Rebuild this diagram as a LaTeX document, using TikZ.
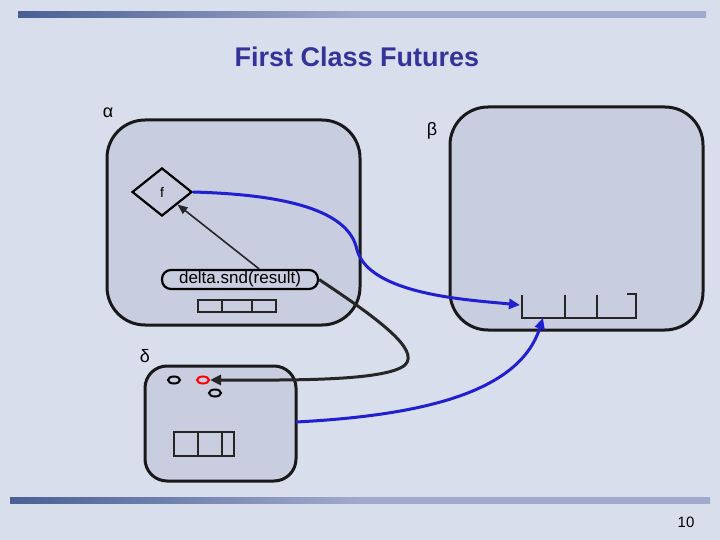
\documentclass[tikz,border=0pt]{standalone}
\usepackage{fontspec}
\setmainfont{Liberation Sans}
\usetikzlibrary{arrows.meta,shapes.geometric}
\definecolor{bg}{HTML}{D9DEED}
\definecolor{boxf}{HTML}{C8CDE0}
\definecolor{ttl}{HTML}{333399}
\definecolor{barL}{HTML}{4A5F94}
\definecolor{barR}{HTML}{A0AACC}
\definecolor{bl}{HTML}{2020D0}
\begin{document}
\begin{tikzpicture}[x=1pt,y=-1pt,
  actor/.style={draw=black!90,line width=3pt,fill=boxf,rounded corners=38pt},
  cell/.style={draw=black!85,line width=1.1pt},
  blue conn/.style={draw=bl,line width=3pt,-{Triangle[length=11pt,width=10pt]}},
  black conn/.style={draw=black!85,line width=3pt,-{Triangle[length=11pt,width=10pt]}},
  lab/.style={font=\fontsize{18}{18}\selectfont}]
\fill[bg] (0,0) rectangle (720,540);
\useasboundingbox (0,0) rectangle (720,540);
\shade[left color=barL,right color=barR,middle color=barR] (18,12) rectangle (706,18);
\shade[left color=barL,right color=barR,middle color=barR] (10,497) rectangle (710,503);
\node[font=\bfseries\fontsize{27}{27}\selectfont,text=ttl] (title) at (357,57) {First Class Futures};
\node[lab] (la) at (108,113) {α};
\node[lab] (lb) at (432,131) {β};
\node[lab] (ld) at (145,356) {δ};
\node[font=\fontsize{15}{15}\selectfont] (pg) at (686,522) {10};
\draw[actor] (107,120) rectangle (360,325);
\draw[actor] (450,107) rectangle (703,330);
\draw[actor,rounded corners=22pt] (145,366) rectangle (296,481);
% diamond
\node[diamond,draw,line width=2.2pt,minimum width=60pt,minimum height=48pt,inner sep=0pt,font=\fontsize{14}{14}\selectfont] (f) at (162,192) {f};
\node[draw,line width=2.2pt,rounded corners=9pt,minimum width=156pt,minimum height=19pt,inner sep=0pt,font=\fontsize{17}{17}\selectfont] (p) at (240,279.5) {delta.snd(result)};
% queues
\draw[cell] (198,300) rectangle (276,312) (222,300)--(222,312) (252,300)--(252,312);
\draw[cell] (522,295) -- (522,318) -- (636,318) -- (636,294) -- (627,294) (565,295)--(565,318) (597,295)--(597,318);
\coordinate (qb) at (520,305);
\coordinate (qb2) at (543,318);
\draw[cell] (174,432) rectangle (234,456) (198,432)--(198,456) (222,432)--(222,456);
% ellipses
\node[draw,ellipse,line width=2pt,minimum width=12pt,minimum height=7pt,inner sep=0pt] (e1) at (174,380) {};
\node[draw=red,ellipse,line width=2pt,minimum width=12pt,minimum height=7pt,inner sep=0pt] (e2) at (203,380) {};
\node[draw,ellipse,line width=2pt,minimum width=12pt,minimum height=7pt,inner sep=0pt] (e3) at (215,393) {};
\coordinate (dr) at (296,422);
% connectors
\draw[draw=black!85,line width=1.6pt,-{Triangle[length=10pt,width=8pt]}] (p.north east) ++(-60,0) -- (f.south east);
\draw[blue conn] (f.east) .. controls (300,195) and (350,215) .. (357,250) .. controls (370,295) and (470,300) .. (qb);
\draw[blue conn] (dr) .. controls (430,415) and (520,390) .. (qb2);
\draw[black conn] (p.east) .. controls (380,320) and (420,350) .. (405,365) .. controls (385,382) and (280,380) .. (e2.east);
\end{tikzpicture}
\end{document}
